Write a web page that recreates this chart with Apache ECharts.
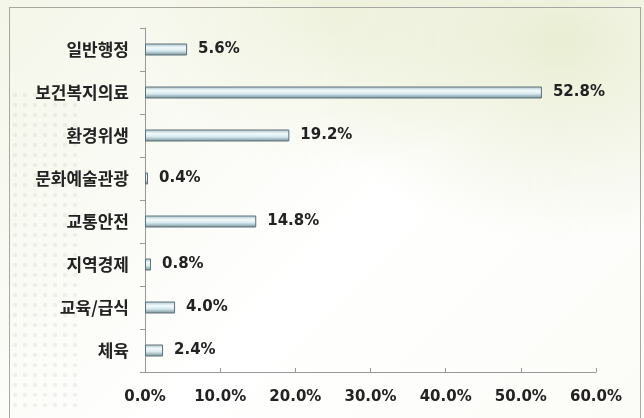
<!DOCTYPE html>
<html>
<head>
<meta charset="utf-8">
<script src="https://cdn.jsdelivr.net/npm/echarts@6/dist/echarts.min.js"></script>
<style>
  html, body { margin: 0; padding: 0; }
  body {
    width: 644px;
    height: 418px;
    overflow: hidden;
    background:
      radial-gradient(ellipse 260px 200px at 560px 40px, rgba(228, 233, 200, 0.8), rgba(255, 255, 255, 0) 100%),
      radial-gradient(ellipse 200px 160px at 330px 10px, rgba(234, 238, 210, 0.65), rgba(255, 255, 255, 0) 100%),
      linear-gradient(135deg, #f4f6e9 0%, #ffffff 55%, #fbfbf7 100%);
  }
  #frame {
    position: absolute;
    left: 9px;
    top: 7px;
    width: 630px;
    height: 420px;
    border: 1px solid #a8a8a0;
    border-bottom: none;
  }
  #dots {
    position: absolute;
    left: 10px;
    top: 90px;
    width: 70px;
    height: 320px;
    background-image: radial-gradient(circle, rgba(150, 150, 140, 0.12) 2px, rgba(255, 255, 255, 0) 2.5px);
    background-size: 10px 10px;
  }
  #chart { position: absolute; left: 0; top: 0; width: 644px; height: 418px; }
</style>
</head>
<body>
<div id="frame"></div>
<div id="dots"></div>
<div id="chart"></div>
<script>
const categories = ["일반행정", "보건복지의료", "환경위생", "문화예술관광", "교통안전", "지역경제", "교육/급식", "체육"];
const shares = [5.6, 52.8, 19.2, 0.4, 14.8, 0.8, 4.0, 2.4];
const tickMax = 60;
const tickStep = 10;

const font = '"Noto Sans CJK KR", "Noto Sans", sans-serif';
const numFont = '"DejaVu Sans", "Noto Sans", sans-serif';

const barColor = new echarts.graphic.LinearGradient(0, 0, 0, 1, [
  { offset: 0, color: "#a7c3cc" },
  { offset: 0.35, color: "#f2fafc" },
  { offset: 0.6, color: "#d9ebf0" },
  { offset: 1, color: "#6f8c95" },
]);

const chart = echarts.init(document.getElementById("chart"));
chart.setOption({
  animation: false,
  grid: { left: 145, right: 48, top: 28, bottom: 46 },
  xAxis: {
    type: "value",
    min: 0,
    max: tickMax,
    interval: tickStep,
    splitLine: { show: false },
    axisLine: { show: true, lineStyle: { color: "#999999", width: 1 } },
    axisTick: { show: true, inside: true, length: 4, lineStyle: { color: "#999999" } },
    axisLabel: {
      color: "#222222",
      fontFamily: numFont,
      fontWeight: "bold",
      fontSize: 15,
      margin: 18,
      formatter: (v) => `${v.toFixed(1)}%`,
    },
  },
  yAxis: {
    type: "category",
    inverse: true,
    data: categories,
    axisLine: { show: true, lineStyle: { color: "#999999", width: 1 } },
    axisTick: { show: true, length: 5, lineStyle: { color: "#999999" } },
    axisLabel: {
      color: "#222222",
      fontFamily: font,
      fontWeight: "bold",
      fontSize: 17,
      margin: 16,
    },
  },
  series: [
    {
      type: "bar",
      data: shares,
      barWidth: 12,
      itemStyle: {
        color: barColor,
        borderColor: "#5e7078",
        borderWidth: 1,
      },
      label: {
        show: true,
        position: "right",
        distance: 11,
        color: "#222222",
        fontFamily: numFont,
        fontWeight: "bold",
        fontSize: 15,
        formatter: (p) => `${p.value.toFixed(1)}%`,
      },
    },
  ],
});
</script>
</body>
</html>
